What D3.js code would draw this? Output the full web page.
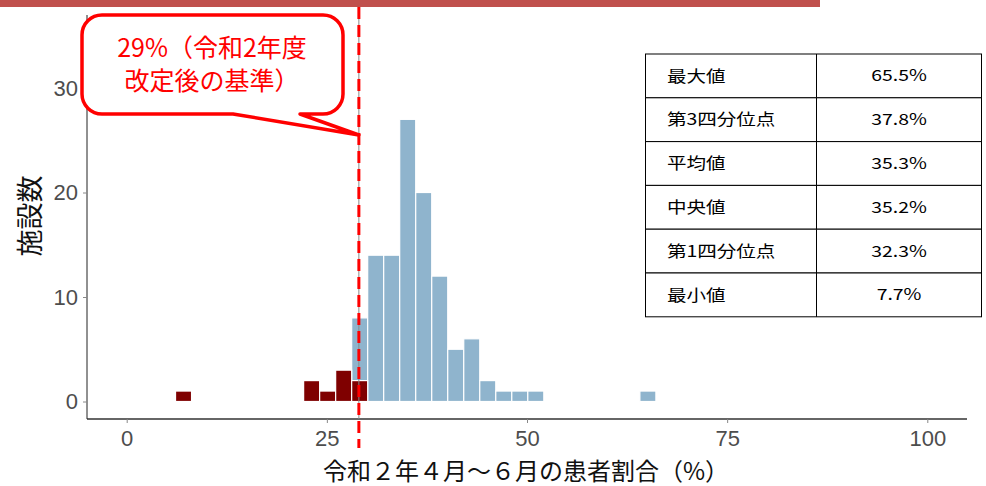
<!DOCTYPE html>
<html>
<head>
<meta charset="utf-8">
<script src="https://cdn.jsdelivr.net/npm/d3@7"></script>
<style>
  html, body { margin: 0; padding: 0; background: #fff; }
  svg { display: block; }
  .tick-lbl { font-family: "Liberation Sans", Arial, sans-serif; fill: #4d4d4d; }
  .jp { font-family: "Noto Sans CJK JP", sans-serif; }
</style>
</head>
<body>
<div id="chart"></div>
<script>
// histogram bins (width 2), split at the 29% threshold
const BIN_W = 2;
const belowStart = [6.1, 22.1, 24.1, 26.1, 28.1];
const belowCount = [1, 2, 1, 3, 2];
const aboveStart = [28.1, 30.1, 32.1, 34.1, 36.1, 38.1, 40.1, 42.1, 44.1, 46.1, 48.1, 50.1, 64.1];
const aboveCount = [6, 14, 14, 27, 20, 12, 5, 6, 2, 1, 1, 1, 1];
const threshold = 29;

const xTicks = [0, 25, 50, 75, 100];
const yTicks = [0, 10, 20, 30];

const statLabels = ["最大値", "第3四分位点", "平均値", "中央値", "第1四分位点", "最小値"];
const statValues = ["65.5%", "37.8%", "35.3%", "35.2%", "32.3%", "7.7%"];

const calloutLines = ["29%（令和2年度", "改定後の基準）"];
const xTitle = "令和２年４月～６月の患者割合（%）";
const yTitle = "施設数";

(function () {
  const W = 986, H = 486;
  const svg = d3.select("#chart").append("svg").attr("width", W).attr("height", H);

  const x = d3.scaleLinear().domain([0, 100]).range([126.7, 927.3]);
  const y = d3.scaleLinear().domain([0, 30]).range([401.5, 88]);

  // top red band
  svg.append("rect").attr("x", 0).attr("y", 0).attr("width", 820).attr("height", 7).attr("fill", "#c0504d");

  // bars: light part stacked on the dark part in the shared bin
  const below = belowStart.map((s, i) => ({ s, n: belowCount[i], base: 0 }));
  const above = aboveStart.map((s, i) => {
    const j = belowStart.indexOf(s);
    return { s, n: aboveCount[i], base: j >= 0 ? belowCount[j] : 0 };
  });

  const bars = svg.append("g");
  bars.selectAll(".above").data(above).join("rect")
    .attr("class", "above")
    .attr("x", d => x(d.s))
    .attr("width", d => x(d.s + BIN_W) - x(d.s))
    .attr("y", d => y(d.base + d.n))
    .attr("height", d => y(d.base) - y(d.base + d.n))
    .attr("fill", "#8fb4cd").attr("stroke", "#fff").attr("stroke-width", 1.2);
  bars.selectAll(".below").data(below).join("rect")
    .attr("class", "below")
    .attr("x", d => x(d.s))
    .attr("width", d => x(d.s + BIN_W) - x(d.s))
    .attr("y", d => y(d.base + d.n))
    .attr("height", d => y(d.base) - y(d.base + d.n))
    .attr("fill", "#7f0000").attr("stroke", "#fff").attr("stroke-width", 1.2);

  // axes
  const xAxisY = 419;
  const xAxis = d3.axisBottom(x).tickValues(xTicks).tickSize(4).tickSizeOuter(0);
  const gx = svg.append("g").attr("transform", `translate(0,${xAxisY})`).call(xAxis);
  gx.select(".domain").attr("d", `M87,0H967`).attr("stroke", "#666").attr("stroke-width", 2);
  gx.selectAll(".tick line").attr("stroke", "#888");
  gx.selectAll(".tick text").attr("class", "tick-lbl").attr("font-size", 22)
    .attr("y", 26.5).attr("dy", 0);

  const yAxis = d3.axisLeft(y).tickValues(yTicks).tickSize(4).tickSizeOuter(0).tickPadding(5);
  const gy = svg.append("g").attr("transform", "translate(87,0)").call(yAxis);
  gy.select(".domain").attr("d", `M0,15V${xAxisY}`).attr("stroke", "#222").attr("stroke-width", 1);
  gy.selectAll(".tick line").attr("stroke", "#888");
  gy.selectAll(".tick text").attr("class", "tick-lbl").attr("font-size", 22);

  // axis titles
  svg.append("text").attr("class", "jp")
    .attr("x", 526).attr("y", 480).attr("text-anchor", "middle")
    .attr("font-size", 24).attr("fill", "#111").text(xTitle);
  svg.append("text").attr("class", "jp")
    .attr("transform", `translate(40,216) rotate(-90)`).attr("text-anchor", "middle")
    .attr("font-size", 27).attr("fill", "#111").text(yTitle);

  // threshold line (faint plot line under the red annotation)
  const tx = x(threshold);
  svg.append("line").attr("x1", tx).attr("x2", tx).attr("y1", 15).attr("y2", xAxisY)
    .attr("stroke", "#888").attr("stroke-width", 1);
  svg.append("line").attr("x1", tx).attr("x2", tx).attr("y1", 7).attr("y2", 448)
    .attr("stroke", "#ff0000").attr("stroke-width", 3).attr("stroke-dasharray", "12,6");

  // callout bubble
  const bx0 = 82, bx1 = 343, by0 = 15, by1 = 114, r = 20;
  const p = d3.path();
  p.moveTo(bx0 + r, by0);
  p.lineTo(bx1 - r, by0);
  p.arcTo(bx1, by0, bx1, by0 + r, r);
  p.lineTo(bx1, by1 - r);
  p.arcTo(bx1, by1, bx1 - r, by1, r);
  p.lineTo(300, by1);
  p.lineTo(tx, 135);
  p.lineTo(233, by1);
  p.lineTo(bx0 + r, by1);
  p.arcTo(bx0, by1, bx0, by1 - r, r);
  p.lineTo(bx0, by0 + r);
  p.arcTo(bx0, by0, bx0 + r, by0, r);
  p.closePath();
  svg.append("path").attr("d", p.toString())
    .attr("fill", "#fff").attr("stroke", "#ff0000").attr("stroke-width", 3.5).attr("stroke-linejoin", "round");
  svg.append("g").selectAll("text").data(calloutLines).join("text")
    .attr("class", "jp")
    .attr("x", 212).attr("y", (d, i) => 57 + i * 33)
    .attr("text-anchor", "middle").attr("font-size", 25).attr("fill", "#ff0000")
    .text(d => d);

  // stats table (text stretched horizontally as in the source)
  const tX0 = 645.5, tXm = 816.5, tX1 = 981.5, tY0 = 54, rowH = 43.8;
  const tbl = svg.append("g");
  const rows = tbl.selectAll("g").data(statLabels).join("g")
    .attr("transform", (d, i) => `translate(0,${tY0 + i * rowH})`);
  rows.append("rect").attr("x", tX0).attr("width", tX1 - tX0).attr("height", rowH)
    .attr("fill", "#fff").attr("stroke", "#000").attr("stroke-width", 1);
  rows.append("line").attr("x1", tXm).attr("x2", tXm).attr("y1", 0).attr("y2", rowH)
    .attr("stroke", "#000").attr("stroke-width", 1);
  rows.append("text").attr("class", "jp")
    .attr("transform", `translate(667,${rowH / 2}) scale(1.22,1)`).attr("dy", "0.35em")
    .attr("font-size", 16).attr("fill", "#000").text(d => d);
  rows.append("text").attr("class", "jp")
    .attr("transform", `translate(${(tXm + tX1) / 2},${rowH / 2}) scale(1.25,1)`)
    .attr("dy", "0.35em").attr("text-anchor", "middle")
    .attr("font-size", 15.5).attr("fill", "#000").text((d, i) => statValues[i]);
})();
</script>
</body>
</html>
